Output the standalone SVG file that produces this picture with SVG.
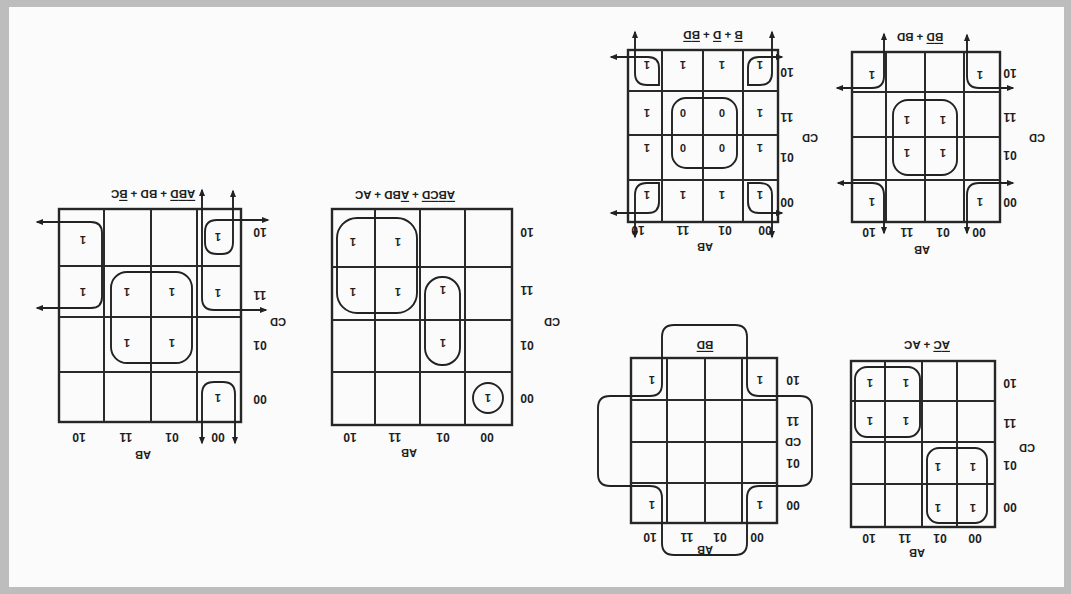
<svg xmlns="http://www.w3.org/2000/svg" width="1071" height="594" viewBox="0 0 1071 594">
<defs>
<style>
text{font-family:"Liberation Sans",Arial,sans-serif;fill:#1e1e1e;text-anchor:middle;dominant-baseline:central}
.lb{font-size:12px;font-weight:bold}
.v{font-size:11px;font-weight:bold}
.ex{font-size:11.5px;font-weight:bold}
.ax{font-size:11px;font-weight:bold}
.g{fill:none;stroke:#262626;stroke-width:2.4}
.gl{fill:none;stroke:#2a2a2a;stroke-width:2}
.lp{fill:none;stroke:#222;stroke-width:1.9}
.ar{marker-start:url(#ah);marker-end:url(#ah)}
.ob{text-decoration:overline}
</style>
<marker id="ah" viewBox="0 0 10 10" refX="8" refY="5" markerWidth="4" markerHeight="4" orient="auto-start-reverse"><path d="M0,1 L10,5 L0,9 z" fill="#222"/></marker>
</defs>
<rect x="0" y="0" width="1071" height="594" fill="#bdbdbd"/>
<rect x="9" y="7" width="1055" height="580" fill="#fbfbfb"/>

<g id="map1">
<rect class="g" x="59" y="209" width="182" height="213"/>
<path class="gl" d="M104,209V422M151,209V422M197,209V422M59,266H241M59,317H241M59,372H241"/>
<path class="lp ar" d="M37,222H91Q102,222 102,233V297Q102,308 91,308H37"/>
<path class="lp ar" d="M202,190V298Q202,310 214,310H266"/>
<path class="lp ar" d="M268,220H217Q205,220 205,232V242Q205,254 217,254H222Q233,254 233,242V191"/>
<path class="lp ar" d="M202,443V394Q202,382 214,382H223Q235,382 235,394V443"/>
<rect class="lp" x="111" y="272" width="81" height="91" rx="16"/>
<g class="v">
<text x="83" y="240" transform="rotate(180 83 240)">1</text>
<text x="83" y="292" transform="rotate(180 83 292)">1</text>
<text x="127" y="292" transform="rotate(180 127 292)">1</text>
<text x="172" y="292" transform="rotate(180 172 292)">1</text>
<text x="127" y="343" transform="rotate(180 127 343)">1</text>
<text x="172" y="343" transform="rotate(180 172 343)">1</text>
<text x="218" y="237" transform="rotate(180 218 237)">1</text>
<text x="218" y="293" transform="rotate(180 218 293)">1</text>
<text x="218" y="398" transform="rotate(180 218 398)">1</text>
</g>
<g class="lb">
<text x="260" y="232" transform="rotate(180 260 232)">10</text>
<text x="260" y="295" transform="rotate(180 260 295)">11</text>
<text x="260" y="345" transform="rotate(180 260 345)">01</text>
<text x="260" y="399" transform="rotate(180 260 399)">00</text>
<text x="79" y="437" transform="rotate(180 79 437)">10</text>
<text x="126" y="437" transform="rotate(180 126 437)">11</text>
<text x="172" y="437" transform="rotate(180 172 437)">01</text>
<text x="218" y="437" transform="rotate(180 218 437)">00</text>
</g>
<text class="ax" x="278" y="322" transform="rotate(180 278 322)">CD</text>
<text class="ax" x="143" y="455" transform="rotate(180 143 455)">AB</text>
<text class="ex" x="153" y="194" transform="rotate(180 153 194)"><tspan class="ob">A</tspan><tspan class="ob">B</tspan><tspan class="ob">D</tspan> + BD + <tspan class="ob">B</tspan>C</text>
</g>

<g id="map2">
<rect class="g" x="332" y="209" width="180" height="216"/>
<path class="gl" d="M375,209V425M420,209V425M465,209V425M332,267H512M332,320H512M332,372H512"/>
<rect class="lp" x="337" y="218" width="80" height="95" rx="20"/>
<rect class="lp" x="425" y="277" width="35" height="88" rx="17"/>
<circle class="lp" cx="488" cy="398" r="15"/>
<g class="v">
<text x="353" y="242" transform="rotate(180 353 242)">1</text>
<text x="398" y="242" transform="rotate(180 398 242)">1</text>
<text x="353" y="292" transform="rotate(180 353 292)">1</text>
<text x="398" y="292" transform="rotate(180 398 292)">1</text>
<text x="443" y="290" transform="rotate(180 443 290)">1</text>
<text x="443" y="343" transform="rotate(180 443 343)">1</text>
<text x="488" y="398" transform="rotate(180 488 398)">1</text>
</g>
<g class="lb">
<text x="527" y="232" transform="rotate(180 527 232)">10</text>
<text x="527" y="290" transform="rotate(180 527 290)">11</text>
<text x="527" y="345" transform="rotate(180 527 345)">01</text>
<text x="527" y="398" transform="rotate(180 527 398)">00</text>
<text x="350" y="437" transform="rotate(180 350 437)">10</text>
<text x="395" y="437" transform="rotate(180 395 437)">11</text>
<text x="443" y="437" transform="rotate(180 443 437)">01</text>
<text x="487" y="437" transform="rotate(180 487 437)">00</text>
</g>
<text class="ax" x="552" y="322" transform="rotate(180 552 322)">CD</text>
<text class="ax" x="409" y="453" transform="rotate(180 409 453)">AB</text>
<text class="ex" x="405" y="195" transform="rotate(180 405 195)"><tspan class="ob">A</tspan><tspan class="ob">B</tspan><tspan class="ob">C</tspan><tspan class="ob">D</tspan> + <tspan class="ob">A</tspan>BD + AC</text>
</g>

<g id="map3">
<rect class="g" x="628" y="50" width="150" height="172"/>
<path class="gl" d="M662,50V222M703,50V222M743,50V222M628,91H778M628,135H778M628,180H778"/>
<rect class="lp" x="672" y="98" width="65" height="70" rx="14"/>
<path class="lp ar" d="M611,57H648Q659,57 659,68V85H647Q635,85 635,73V32"/>
<path class="lp ar" d="M782,57H759Q748,57 748,68V85H760Q772,85 772,73V32"/>
<path class="lp ar" d="M611,213H648Q659,213 659,202V183H647Q635,183 635,195V237"/>
<path class="lp ar" d="M782,213H759Q748,213 748,202V183H760Q772,183 772,195V237"/>
<g class="v">
<text x="647" y="65" transform="rotate(180 647 65)">1</text>
<text x="683" y="65" transform="rotate(180 683 65)">1</text>
<text x="722" y="65" transform="rotate(180 722 65)">1</text>
<text x="760" y="65" transform="rotate(180 760 65)">1</text>
<text x="647" y="113" transform="rotate(180 647 113)">1</text>
<text x="683" y="113" transform="rotate(180 683 113)">0</text>
<text x="722" y="113" transform="rotate(180 722 113)">0</text>
<text x="760" y="113" transform="rotate(180 760 113)">1</text>
<text x="647" y="148" transform="rotate(180 647 148)">1</text>
<text x="683" y="148" transform="rotate(180 683 148)">0</text>
<text x="722" y="148" transform="rotate(180 722 148)">0</text>
<text x="760" y="148" transform="rotate(180 760 148)">1</text>
<text x="647" y="195" transform="rotate(180 647 195)">1</text>
<text x="683" y="195" transform="rotate(180 683 195)">1</text>
<text x="722" y="195" transform="rotate(180 722 195)">1</text>
<text x="760" y="195" transform="rotate(180 760 195)">1</text>
</g>
<g class="lb">
<text x="787" y="72" transform="rotate(180 787 72)">10</text>
<text x="787" y="117" transform="rotate(180 787 117)">11</text>
<text x="787" y="157" transform="rotate(180 787 157)">01</text>
<text x="787" y="202" transform="rotate(180 787 202)">00</text>
<text x="638" y="230" transform="rotate(180 638 230)">10</text>
<text x="683" y="230" transform="rotate(180 683 230)">11</text>
<text x="725" y="230" transform="rotate(180 725 230)">01</text>
<text x="765" y="230" transform="rotate(180 765 230)">00</text>
</g>
<text class="ax" x="810" y="138" transform="rotate(180 810 138)">CD</text>
<text class="ax" x="705" y="247" transform="rotate(180 705 247)">AB</text>
<text class="ex" x="713" y="35" transform="rotate(180 713 35)"><tspan class="ob">B</tspan> + <tspan class="ob">D</tspan> + <tspan class="ob">B</tspan><tspan class="ob">D</tspan></text>
</g>

<g id="map4">
<rect class="g" x="852" y="52" width="148" height="170"/>
<path class="gl" d="M886,52V222M925,52V222M964,52V222M852,92H1000M852,137H1000M852,180H1000"/>
<rect class="lp" x="893" y="100" width="64" height="75" rx="15"/>
<path class="lp ar" d="M837,88H872Q884,88 884,76V34"/>
<path class="lp ar" d="M1013,88H979Q967,88 967,76V35"/>
<path class="lp ar" d="M838,183H872Q884,183 884,195V233"/>
<path class="lp ar" d="M1013,183H979Q967,183 967,195V233"/>
<g class="v">
<text x="872" y="75" transform="rotate(180 872 75)">1</text>
<text x="980" y="75" transform="rotate(180 980 75)">1</text>
<text x="907" y="120" transform="rotate(180 907 120)">1</text>
<text x="943" y="120" transform="rotate(180 943 120)">1</text>
<text x="907" y="153" transform="rotate(180 907 153)">1</text>
<text x="943" y="153" transform="rotate(180 943 153)">1</text>
<text x="872" y="202" transform="rotate(180 872 202)">1</text>
<text x="980" y="202" transform="rotate(180 980 202)">1</text>
</g>
<g class="lb">
<text x="1010" y="73" transform="rotate(180 1010 73)">10</text>
<text x="1010" y="117" transform="rotate(180 1010 117)">11</text>
<text x="1010" y="155" transform="rotate(180 1010 155)">01</text>
<text x="1010" y="202" transform="rotate(180 1010 202)">00</text>
<text x="869" y="232" transform="rotate(180 869 232)">10</text>
<text x="907" y="232" transform="rotate(180 907 232)">11</text>
<text x="943" y="232" transform="rotate(180 943 232)">01</text>
<text x="979" y="232" transform="rotate(180 979 232)">00</text>
</g>
<text class="ax" x="1037" y="138" transform="rotate(180 1037 138)">CD</text>
<text class="ax" x="922" y="250" transform="rotate(180 922 250)">AB</text>
<text class="ex" x="920" y="37" transform="rotate(180 920 37)"><tspan class="ob">B</tspan><tspan class="ob">D</tspan> + BD</text>
</g>

<g id="map5">
<rect class="g" x="631" y="358" width="146" height="165"/>
<path class="gl" d="M667,358V523M705,358V523M742,358V523M631,400H777M631,442H777M631,483H777"/>
<path class="lp" d="M674,325H735Q747,325 747,337V384Q747,396 759,396H800Q812,396 812,408V474Q812,486 800,486H759Q747,486 747,498V543Q747,555 735,555H674Q662,555 662,543V498Q662,486 650,486H610Q598,486 598,474V408Q598,396 610,396H650Q662,396 662,384V337Q662,325 674,325Z"/>
<g class="v">
<text x="652" y="380" transform="rotate(180 652 380)">1</text>
<text x="760" y="380" transform="rotate(180 760 380)">1</text>
<text x="652" y="505" transform="rotate(180 652 505)">1</text>
<text x="760" y="505" transform="rotate(180 760 505)">1</text>
</g>
<g class="lb">
<text x="793" y="380" transform="rotate(180 793 380)">10</text>
<text x="793" y="421" transform="rotate(180 793 421)">11</text>
<text x="793" y="463" transform="rotate(180 793 463)">01</text>
<text x="793" y="505" transform="rotate(180 793 505)">00</text>
<text x="650" y="537" transform="rotate(180 650 537)">10</text>
<text x="687" y="537" transform="rotate(180 687 537)">11</text>
<text x="720" y="537" transform="rotate(180 720 537)">01</text>
<text x="757" y="537" transform="rotate(180 757 537)">00</text>
</g>
<text class="ax" x="793" y="442" transform="rotate(180 793 442)">CD</text>
<text class="ax" x="705" y="550" transform="rotate(180 705 550)">AB</text>
<text class="ex" x="705" y="345" transform="rotate(180 705 345)"><tspan class="ob">B</tspan><tspan class="ob">D</tspan></text>
</g>

<g id="map6">
<rect class="g" x="851" y="361" width="144" height="166"/>
<path class="gl" d="M885,361V527M922,361V527M957,361V527M851,401H995M851,442H995M851,484H995"/>
<rect class="lp" x="855" y="367" width="65" height="70" rx="12"/>
<rect class="lp" x="927" y="448" width="60" height="75" rx="12"/>
<g class="v">
<text x="870" y="383" transform="rotate(180 870 383)">1</text>
<text x="906" y="383" transform="rotate(180 906 383)">1</text>
<text x="870" y="421" transform="rotate(180 870 421)">1</text>
<text x="906" y="421" transform="rotate(180 906 421)">1</text>
<text x="938" y="467" transform="rotate(180 938 467)">1</text>
<text x="973" y="467" transform="rotate(180 973 467)">1</text>
<text x="938" y="508" transform="rotate(180 938 508)">1</text>
<text x="973" y="508" transform="rotate(180 973 508)">1</text>
</g>
<g class="lb">
<text x="1010" y="383" transform="rotate(180 1010 383)">10</text>
<text x="1010" y="423" transform="rotate(180 1010 423)">11</text>
<text x="1010" y="465" transform="rotate(180 1010 465)">01</text>
<text x="1010" y="507" transform="rotate(180 1010 507)">00</text>
<text x="869" y="538" transform="rotate(180 869 538)">10</text>
<text x="905" y="538" transform="rotate(180 905 538)">11</text>
<text x="940" y="538" transform="rotate(180 940 538)">01</text>
<text x="975" y="538" transform="rotate(180 975 538)">00</text>
</g>
<text class="ax" x="1027" y="448" transform="rotate(180 1027 448)">CD</text>
<text class="ax" x="917" y="553" transform="rotate(180 917 553)">AB</text>
<text class="ex" x="927" y="345" transform="rotate(180 927 345)"><tspan class="ob">A</tspan><tspan class="ob">C</tspan> + AC</text>
</g>

<g id="connectors"></g>
</svg>
